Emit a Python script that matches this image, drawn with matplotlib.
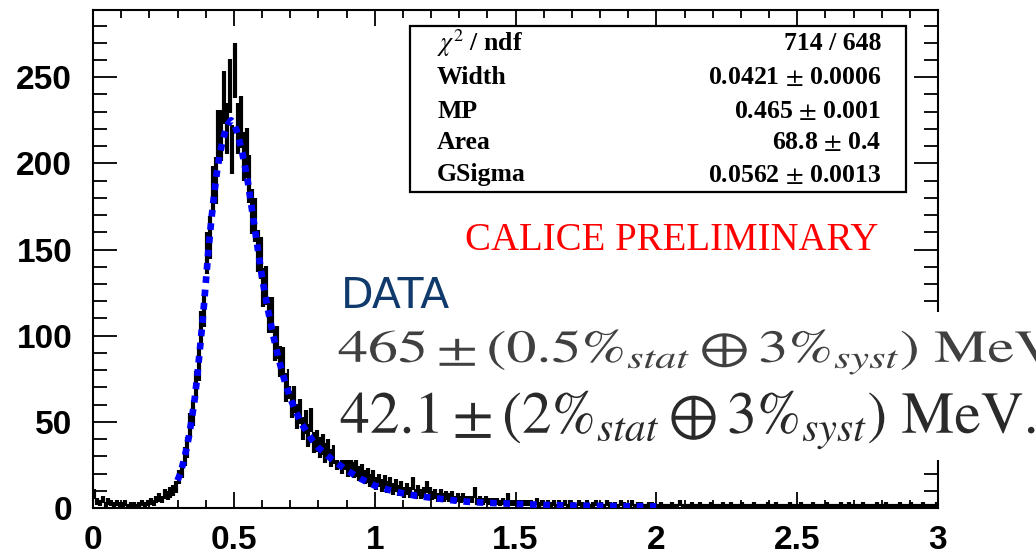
import numpy as np
import matplotlib
matplotlib.use("Agg")
import matplotlib.pyplot as plt
from matplotlib.patches import Rectangle, PathPatch
from matplotlib.textpath import TextPath
from matplotlib.font_manager import FontProperties
from matplotlib.transforms import Affine2D
from matplotlib.ticker import MultipleLocator

# energy deposit histogram, 0.01 wide bins from 0 to 3
bin_width = 0.01
counts = [
    8, 4, 3, 5, 2, 4, 3, 2, 3, 2,
    2, 3, 1, 2, 2, 1, 2, 3, 2, 3,
    4, 3, 5, 6, 5, 8, 7, 9, 10, 12,
    18, 22, 30, 35, 48, 55, 71, 83, 104, 116,
    148, 157, 185, 190, 216, 216, 238, 220, 245, 208,
    254, 220, 224, 204, 206, 191, 172, 167, 149, 145,
    128, 129, 112, 112, 95, 96, 85, 84, 70, 72,
    60, 63, 53, 56, 46, 50, 42, 51, 38, 39,
    35, 37, 32, 34, 29, 31, 27, 35, 25, 27,
    23, 25, 22, 23, 20, 21, 18, 19, 16, 18,
    14, 16, 13, 15, 12, 14, 11, 13, 10, 12,
    9, 11, 9, 14, 8, 10, 8, 9, 12, 9,
    7, 8, 6, 8, 6, 7, 6, 7, 5, 6,
    5, 6, 5, 5, 5, 9, 4, 5, 4, 5,
    4, 4, 4, 4, 3, 4, 3, 6, 3, 3,
    3, 3, 3, 3, 3, 3, 2, 4, 2, 3,
    2, 3, 2, 3, 1, 3, 2, 3, 1, 3,
    2, 1, 3, 2, 1, 3, 1, 2, 3, 1,
    2, 1, 3, 2, 1, 2, 1, 3, 2, 1,
    1, 3, 1, 2, 2, 1, 1, 2, 2, 1,
    1, 2, 1, 1, 1, 2, 1, 1, 3, 1,
    1, 1, 2, 1, 1, 2, 1, 1, 1, 2,
    1, 1, 1, 2, 1, 1, 2, 1, 1, 1,
    2, 1, 1, 1, 2, 1, 1, 1, 1, 2,
    1, 1, 2, 1, 1, 1, 1, 2, 1, 1,
    1, 2, 1, 1, 1, 2, 1, 1, 1, 1,
    2, 1, 1, 1, 1, 2, 1, 1, 2, 1,
    1, 1, 1, 2, 1, 1, 1, 1, 2, 1,
    1, 2, 1, 1, 1, 1, 2, 1, 1, 1,
    2, 1, 1, 1, 2, 1, 1, 1, 1, 2,
]

# Landau x Gauss fit curve
fit_x = [0.30, 0.31, 0.32, 0.33, 0.34, 0.35, 0.36, 0.37, 0.38, 0.39,
         0.40, 0.41, 0.42, 0.43, 0.44, 0.45, 0.46, 0.47, 0.48, 0.49,
         0.50, 0.51, 0.52, 0.53, 0.54, 0.55, 0.56, 0.57, 0.58, 0.59,
         0.60, 0.62, 0.64, 0.66, 0.68, 0.70, 0.72, 0.74, 0.76, 0.78,
         0.80, 0.85, 0.90, 0.95, 1.00, 1.05, 1.10, 1.15, 1.20, 1.25,
         1.30, 1.35, 1.40, 1.50, 1.60, 1.70, 1.80, 1.90, 2.00]
fit_y = [16, 20, 26, 33, 41, 51, 62, 76, 93, 110,
         130, 150, 167, 182, 195, 205, 213, 219, 223, 225,
         223, 219, 213, 206, 198, 189, 178, 167, 156, 145,
         134, 116, 100, 86, 74, 64, 56, 49, 44, 39,
         35, 28, 22, 17, 13, 10.5, 8.5, 7, 6, 5,
         4, 3.4, 3, 2.4, 1.8, 1.4, 1.2, 1.0, 0.9]

stat_names = [r"$\chi^{2}$ / ndf", "Width", "MP", "Area", "GSigma"]
stat_values = ["714 / 648", "0.0421 $\\pm$ 0.0006", "0.465 $\\pm$ 0.001",
               "68.8 $\\pm$ 0.4", "0.0562 $\\pm$ 0.0013"]

result_lines = [
    r"$465 \pm (0.5\%_{stat} \oplus 3\%_{syst})\ \mathrm{MeV}$",
    r"$42.1 \pm (2\%_{stat} \oplus 3\%_{syst})\ \mathrm{MeV.}$",
]

plt.rcParams["mathtext.fontset"] = "stix"

W, H = 1036, 558
fig = plt.figure(figsize=(W / 100, H / 100), dpi=100)


def fx(px):
    return px / W


def fy(py):
    return 1 - py / H


def stretched_text(s, x, y, size_px, sx, color, zorder=5):
    # text drawn as a path so it can be widened independently of its height
    path = TextPath((0, 0), s, size=size_px, prop=FontProperties(family="STIXGeneral"))
    tr = Affine2D().scale(sx, 1.0).translate(x, H - y)
    fig.add_artist(PathPatch(path, transform=tr, facecolor=color,
                             edgecolor="none", zorder=zorder))


ax = fig.add_axes([fx(93), fy(508), fx(938) - fx(93), fy(10) - fy(508)])

counts = np.asarray(counts, dtype=float)
edges = np.arange(len(counts) + 1) * bin_width
centers = 0.5 * (edges[:-1] + edges[1:])
ax.errorbar(centers, counts, xerr=bin_width / 2, yerr=np.sqrt(counts),
            fmt="none", ecolor="black", elinewidth=3.0, capsize=0, zorder=2)
ax.plot(fit_x, fit_y, color="#0000ff", linewidth=4.8, linestyle=(0, (1.0, 1.0)),
        zorder=3)

ax.set_xlim(0, 3)
ax.set_ylim(0, 289)
ax.xaxis.set_major_locator(MultipleLocator(0.5))
ax.xaxis.set_minor_locator(MultipleLocator(0.1))
ax.yaxis.set_major_locator(MultipleLocator(50))
ax.yaxis.set_minor_locator(MultipleLocator(10))
ax.tick_params(which="both", direction="in", top=True, right=True, width=1.3,
               labelsize=24, colors="black")
ax.tick_params(axis="y", which="major", length=17, pad=15)
ax.tick_params(axis="y", which="minor", length=10)
ax.tick_params(axis="x", which="major", length=11.5, pad=12)
ax.tick_params(axis="x", which="minor", length=6)
ax.xaxis.set_major_formatter(plt.FuncFormatter(lambda v, p: f"{v:g}"))
for lab in ax.get_xticklabels() + ax.get_yticklabels():
    lab.set_fontfamily("Liberation Sans")
    lab.set_fontweight("bold")
for sp in ax.spines.values():
    sp.set_linewidth(1.5)

# fit statistics box
fig.add_artist(Rectangle((fx(410), fy(192)), fx(906) - fx(410), fy(26) - fy(192),
                         transform=fig.transFigure, facecolor="white",
                         edgecolor="black", linewidth=1.6, zorder=4))
row_y = [43, 78, 112, 143, 175]
for name, val, y in zip(stat_names, stat_values, row_y):
    fig.text(fx(437), fy(y), name, ha="left", va="center", fontsize=18.5,
             family="Liberation Serif", weight="bold", zorder=5)
    fig.text(fx(881), fy(y), val, ha="right", va="center", fontsize=18.5,
             family="Liberation Serif", weight="bold", zorder=5)

fig.text(fx(878), fy(240), "CALICE PRELIMINARY", ha="right", va="center",
         fontsize=28, family="Liberation Serif", color="#ff0000", zorder=5)

fig.text(fx(341), fy(308), "DATA", ha="left", va="baseline", fontsize=30.5,
         family="DejaVu Sans", color="#103a6b", zorder=5)

# white panels behind the result lines
fig.add_artist(Rectangle((fx(289), fy(386)), 1 - fx(289), fy(312) - fy(386),
                         transform=fig.transFigure, facecolor="white",
                         edgecolor="none", zorder=4))
fig.add_artist(Rectangle((fx(335), fy(460)), 1 - fx(335), fy(386) - fy(460),
                         transform=fig.transFigure, facecolor="white",
                         edgecolor="none", zorder=4))
stretched_text(result_lines[0], 338, 362, 45.8, 1.31, "#404040")
stretched_text(result_lines[1], 340, 433, 59.5, 1.0, "#2a2a2a")

fig.savefig("out.png", dpi=100)
